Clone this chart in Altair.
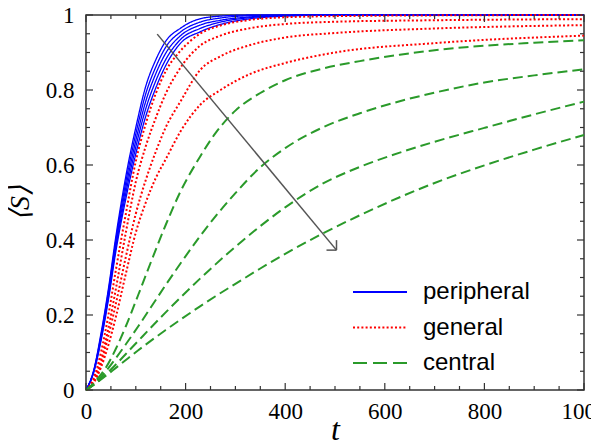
import altair as alt
import pandas as pd

# ---------------- data ----------------
KINDS = ["peripheral", "general", "central"]
COLORS = ["#0000ff", "#ff0000", "#2a9a2a"]
DASHES = [[1, 0], [2, 2.2], [10, 5]]
LEGEND_DASHES = [[1, 0], [2, 2.2], [14, 6]]

T_FAST = [0, 15, 30, 45, 60, 80, 100, 120, 140, 160, 190, 229, 270, 330, 400, 500, 700, 1000]

PERIPHERAL = [
    [0, 0.050, 0.150, 0.270, 0.410, 0.570, 0.700, 0.810, 0.880, 0.930, 0.965, 0.990, 0.997, 1.000, 1.000, 1, 1, 1],
    [0, 0.049, 0.145, 0.263, 0.400, 0.555, 0.683, 0.790, 0.861, 0.914, 0.955, 0.981, 0.992, 0.998, 0.999, 1, 1, 1],
    [0, 0.048, 0.140, 0.255, 0.390, 0.540, 0.665, 0.770, 0.843, 0.898, 0.945, 0.973, 0.986, 0.995, 0.999, 1, 1, 1],
    [0, 0.046, 0.135, 0.248, 0.380, 0.525, 0.648, 0.750, 0.824, 0.881, 0.935, 0.964, 0.981, 0.993, 0.998, 1, 1, 1],
    [0, 0.045, 0.130, 0.240, 0.370, 0.510, 0.630, 0.730, 0.805, 0.865, 0.925, 0.955, 0.975, 0.990, 0.997, 1, 1, 1],
]

GENERAL = [
    [0, 0.030, 0.100, 0.200, 0.320, 0.470, 0.610, 0.710, 0.790, 0.850, 0.905, 0.950, 0.972, 0.987, 0.994, 0.997, 0.999, 1.000],
    [0, 0.025, 0.080, 0.165, 0.270, 0.420, 0.555, 0.650, 0.725, 0.790, 0.860, 0.918, 0.945, 0.965, 0.976, 0.982, 0.986, 0.989],
    [0, 0.020, 0.070, 0.145, 0.230, 0.355, 0.470, 0.560, 0.635, 0.700, 0.770, 0.853, 0.890, 0.920, 0.940, 0.952, 0.964, 0.973],
    [0, 0.018, 0.060, 0.120, 0.195, 0.310, 0.420, 0.500, 0.565, 0.615, 0.690, 0.760, 0.800, 0.843, 0.872, 0.900, 0.925, 0.945],
]

T_SLOW = [0, 20, 40, 60, 80, 105, 130, 160, 190, 229, 260, 300, 350, 400, 475, 550, 630, 700, 800, 900, 1000]

CENTRAL = [
    [0, 0.025, 0.060, 0.110, 0.170, 0.254, 0.340, 0.440, 0.530, 0.622, 0.685, 0.745, 0.792, 0.826, 0.857, 0.877, 0.894, 0.906, 0.918, 0.926, 0.933],
    [0, 0.020, 0.050, 0.085, 0.122, 0.170, 0.220, 0.280, 0.338, 0.410, 0.463, 0.525, 0.594, 0.645, 0.700, 0.738, 0.770, 0.793, 0.820, 0.839, 0.855],
    [0, 0.018, 0.042, 0.068, 0.096, 0.131, 0.166, 0.207, 0.247, 0.297, 0.335, 0.382, 0.437, 0.487, 0.550, 0.595, 0.633, 0.662, 0.699, 0.735, 0.769],
    [0, 0.018, 0.038, 0.059, 0.080, 0.106, 0.131, 0.160, 0.188, 0.223, 0.250, 0.283, 0.324, 0.363, 0.417, 0.466, 0.514, 0.552, 0.599, 0.641, 0.680],
]

X_TICKS = [0, 200, 400, 600, 800, 1000]
X_MINOR = [50, 100, 150, 250, 300, 350, 450, 500, 550, 650, 700, 750, 850, 900, 950]
Y_TICKS = [0, 0.2, 0.4, 0.6, 0.8, 1]
Y_MINOR = [0.05, 0.1, 0.15, 0.25, 0.3, 0.35, 0.45, 0.5, 0.55, 0.65, 0.7, 0.75, 0.85, 0.9, 0.95]

ARROW_START = (143, 0.949)
ARROW_END = (503, 0.373)

# ---------------- tables ----------------
def curves_table(kind, ts, curves):
    rows = []
    for i, vals in enumerate(curves):
        for t, s in zip(ts, vals):
            rows.append({"t": t, "S": s, "kind": kind, "curve": f"{kind}{i}"})
    return pd.DataFrame(rows)

df_p = curves_table("peripheral", T_FAST, PERIPHERAL)
df_g = curves_table("general", T_FAST, GENERAL)
df_c = curves_table("central", T_SLOW, CENTRAL)

W, H = 498, 375

xscale = alt.Scale(domain=[0, 1000], nice=False, zero=False)
yscale = alt.Scale(domain=[0, 1], nice=False, zero=False)

color = alt.Color("kind:N", scale=alt.Scale(domain=KINDS, range=COLORS), legend=None)
dash = alt.StrokeDash("kind:N", scale=alt.Scale(domain=KINDS, range=DASHES), legend=None)

xax = alt.Axis(
    values=X_TICKS, format="d", ticks=False, tickSize=0, domain=False, grid=False,
    labelFont="Liberation Serif", labelFontSize=23, labelColor="black",
    labelPadding=10, labelFlush=False, labelOverlap=False, labelBound=False,
    title="t", titleFont="Liberation Serif", titleFontStyle="italic",
    titleFontSize=32, titleFontWeight="normal", titleColor="black",
    titleX=W / 2, titleY=49, titleBaseline="alphabetic", titleAlign="center",
)
yax = alt.Axis(
    values=Y_TICKS, format="~g", ticks=False, tickSize=0, domain=False, grid=False,
    labelFont="Liberation Serif", labelFontSize=23, labelColor="black",
    labelPadding=12, labelFlush=False, labelOverlap=False, labelBound=False,
    title="⟨S⟩", titleFont="Liberation Serif", titleFontStyle="italic",
    titleFontSize=28, titleFontWeight="normal", titleColor="black",
    titleX=-66, titleY=H / 2, titleAngle=270, titleAlign="center", titleBaseline="middle",
)

def lines(df, width):
    return alt.Chart(df).mark_line(interpolate="monotone", strokeWidth=width, strokeCap="butt").encode(
        x=alt.X("t:Q", scale=xscale, axis=xax),
        y=alt.Y("S:Q", scale=yscale, axis=yax),
        color=color,
        strokeDash=dash,
        detail="curve:N",
    )

blue = lines(df_p, 1.3)
red = lines(df_g, 2)
green = lines(df_c, 2)

# arrow
arrow_df = pd.DataFrame([{"t": ARROW_START[0], "S": ARROW_START[1], "t2": ARROW_END[0], "S2": ARROW_END[1]}])
head_df = pd.DataFrame([{"t": ARROW_END[0], "S": ARROW_END[1]}])
arrow = alt.Chart(arrow_df).mark_rule(color="#555555", strokeWidth=1.5).encode(
    x="t:Q", y="S:Q", x2="t2:Q", y2="S2:Q")
head_h = alt.Chart(head_df).mark_rule(color="#555555", strokeWidth=1.5, x2Offset=-10).encode(
    x="t:Q", y="S:Q", x2="t:Q", y2="S:Q")
head_v = alt.Chart(head_df).mark_rule(color="#555555", strokeWidth=1.5, y2Offset=-10).encode(
    x="t:Q", y="S:Q", x2="t:Q", y2="S:Q")

# inward ticks on all four sides
tick_col = "#333333"
xmaj = pd.DataFrame({"v": X_TICKS})
xmin = pd.DataFrame({"v": X_MINOR})
ymaj = pd.DataFrame({"v": Y_TICKS})
ymin = pd.DataFrame({"v": Y_MINOR})

def xticks(df, length):
    b = alt.Chart(df).mark_rule(color=tick_col, strokeWidth=1.2).encode(
        x=alt.X("v:Q", scale=xscale), y=alt.value(H), y2=alt.value(H - length))
    t = alt.Chart(df).mark_rule(color=tick_col, strokeWidth=1.2).encode(
        x=alt.X("v:Q", scale=xscale), y=alt.value(0), y2=alt.value(length))
    return b + t

def yticks(df, length):
    l = alt.Chart(df).mark_rule(color=tick_col, strokeWidth=1.2).encode(
        y=alt.Y("v:Q", scale=yscale), x=alt.value(0), x2=alt.value(length))
    r = alt.Chart(df).mark_rule(color=tick_col, strokeWidth=1.2).encode(
        y=alt.Y("v:Q", scale=yscale), x=alt.value(W), x2=alt.value(W - length))
    return l + r

ticks = xticks(xmaj, 7) + xticks(xmin, 4) + yticks(ymaj, 7) + yticks(ymin, 4)

# legend (drawn as a guide in pixel space inside the plot area)
LEG_X0, LEG_X1, LEG_TX, LEG_Y0, LEG_DY = 267, 321, 337, 277, 35.5
legend_layers = []
for i, kind in enumerate(KINDS):
    ly = LEG_Y0 + LEG_DY * i
    row = pd.DataFrame([{"kind": kind}])
    legend_layers.append(
        alt.Chart(row).mark_rule(color=COLORS[i], strokeDash=LEGEND_DASHES[i], strokeWidth=2,
                                 strokeCap="butt").encode(
            x=alt.value(LEG_X0), x2=alt.value(LEG_X1), y=alt.value(ly))
    )
    legend_layers.append(
        alt.Chart(row).mark_text(align="left", baseline="middle", font="Liberation Sans",
                                 fontSize=24, color="black").encode(
            x=alt.value(LEG_TX), y=alt.value(ly), text="kind:N")
    )

chart = alt.layer(blue, red, green, arrow, head_h, head_v, ticks, *legend_layers).properties(
    width=W, height=H,
    autosize=alt.AutoSizeParams(type="none"),
    padding={"left": 78, "top": 7, "right": 7, "bottom": 50},
    background="white",
).configure_view(stroke="#333333", strokeWidth=1.5)

chart.save("out.html", embed_options={"renderer": "svg", "actions": False})
